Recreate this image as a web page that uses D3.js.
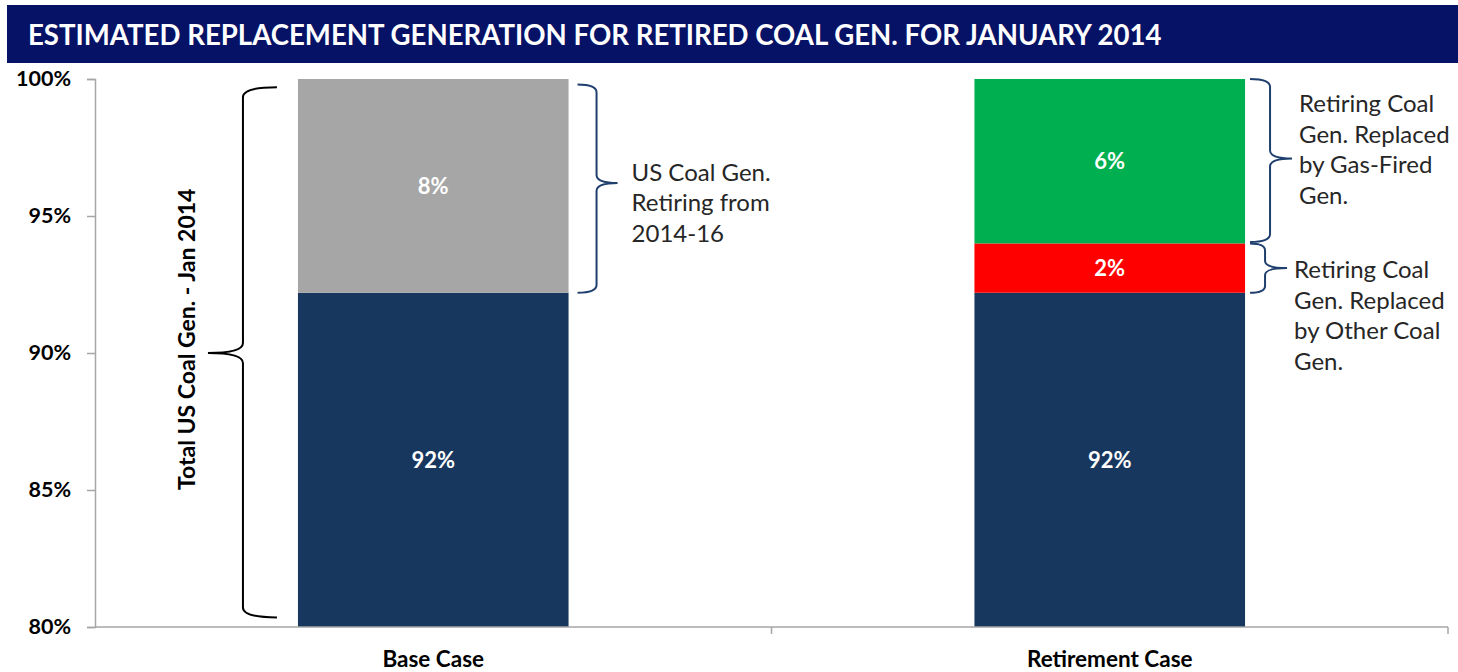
<!DOCTYPE html>
<html>
<head>
<meta charset="utf-8">
<script src="https://cdn.jsdelivr.net/npm/d3@7"></script>
<style>
  body { margin: 0; background: #fff; }
  svg { display: block; font-family: Lato, "Open Sans", sans-serif; }
</style>
</head>
<body>
<div id="chart"></div>
<script>
// chart data
const categories = ["Base Case", "Retirement Case"];
const seriesNames = ["Remaining Coal Gen.", "Retiring Coal Gen.", "Replaced by Other Coal", "Replaced by Gas-Fired"];
const seriesColors = ["#17375e", "#a6a6a6", "#ff0000", "#00b050"];
const baseValues = [92.2, 7.8, 0, 0];
const retirementValues = [92.2, 0, 1.8, 6.0];
const segmentLabels = [["92%", "8%", "", ""], ["92%", "", "2%", "6%"]];
const yTicks = [80, 85, 90, 95, 100];
const titleText = "ESTIMATED REPLACEMENT GENERATION FOR RETIRED COAL GEN. FOR JANUARY 2014";
const yTitle = "Total US Coal Gen. - Jan 2014";

const width = 1458, height = 672;
const margin = {top: 79, right: 10, bottom: 45, left: 95};

const svg = d3.select("#chart").append("svg")
    .attr("width", width)
    .attr("height", height);

// title bar
svg.append("rect")
    .attr("x", 7).attr("y", 5)
    .attr("width", width - 7).attr("height", 58)
    .attr("fill", "#061266");
svg.append("text")
    .attr("x", 28).attr("y", 45)
    .attr("fill", "#fff")
    .style("font-size", "27.6px")
    .style("font-weight", "bold")
    .text(titleText);

const x = d3.scaleBand()
    .domain(categories)
    .range([margin.left, width - margin.right])
    .paddingInner(0.6)
    .paddingOuter(0.3);

const y = d3.scaleLinear()
    .domain([80, 100])
    .range([height - margin.bottom, margin.top]);

// stacked segments starting at the axis floor
const rows = [baseValues, retirementValues].map((vals, i) => {
    let acc = 80;
    return vals.map((v, j) => {
        const start = j === 0 ? 80 : acc;
        const end = j === 0 ? v : acc + v;
        acc = end;
        return {cat: categories[i], series: j, y0: start, y1: end, label: segmentLabels[i][j]};
    });
});
const segs = rows.flat().filter(d => d.y1 > d.y0);

svg.append("g").selectAll("rect")
    .data(segs)
    .join("rect")
    .attr("x", d => x(d.cat))
    .attr("width", x.bandwidth())
    .attr("y", d => y(d.y1))
    .attr("height", d => y(d.y0) - y(d.y1))
    .attr("fill", d => seriesColors[d.series]);

svg.append("g").selectAll("text")
    .data(segs.filter(d => d.label))
    .join("text")
    .attr("x", d => x(d.cat) + x.bandwidth() / 2)
    .attr("y", d => y((d.y0 + d.y1) / 2))
    .attr("dy", "0.35em")
    .attr("text-anchor", "middle")
    .attr("fill", "#fff")
    .style("font-size", "22px")
    .style("font-weight", "bold")
    .text(d => d.label);

// y axis
const yAxis = svg.append("g")
    .attr("transform", `translate(${margin.left},0)`)
    .call(d3.axisLeft(y).tickValues(yTicks).tickSize(8).tickPadding(16).tickFormat(d => d + "%"));
yAxis.select(".domain").attr("stroke", "#a6a6a6").attr("stroke-width", 1.5);
yAxis.selectAll(".tick line").attr("stroke", "#a6a6a6").attr("stroke-width", 1.5);
yAxis.selectAll(".tick text")
    .attr("fill", "#000")
    .style("font-size", "21.5px")
    .style("font-weight", "bold")
    .style("font-family", "Lato, sans-serif");

// x axis
const xAxisY = y(80);
const xg = svg.append("g");
xg.append("line")
    .attr("x1", margin.left).attr("x2", width - margin.right)
    .attr("y1", xAxisY).attr("y2", xAxisY)
    .attr("stroke", "#a6a6a6").attr("stroke-width", 1.5);
const boundaries = [x.step() * 1 + margin.left, width - margin.right];
xg.selectAll("line.tk")
    .data(boundaries)
    .join("line")
    .attr("class", "tk")
    .attr("x1", d => d).attr("x2", d => d)
    .attr("y1", xAxisY).attr("y2", xAxisY + 7)
    .attr("stroke", "#a6a6a6").attr("stroke-width", 1.5);
xg.selectAll("text")
    .data(categories)
    .join("text")
    .attr("x", d => x(d) + x.bandwidth() / 2)
    .attr("y", xAxisY + 40)
    .attr("text-anchor", "middle")
    .style("font-size", "22.5px")
    .style("font-weight", "bold")
    .text(d => d);

// y title
svg.append("text")
    .attr("transform", `translate(195,${(y(85) + y(96)) / 2}) rotate(-90)`)
    .attr("text-anchor", "middle")
    .style("font-size", "23px")
    .style("font-weight", "bold")
    .text(yTitle);

// curly brace, tip at (xTip, ym)
function brace(top, bottom, xEnd, xSpine, xTip, ym, r) {
    return `M${xEnd},${top} Q${xSpine},${top} ${xSpine},${top + r}`
        + ` L${xSpine},${ym - r} Q${xSpine},${ym} ${xTip},${ym}`
        + ` Q${xSpine},${ym} ${xSpine},${ym + r}`
        + ` L${xSpine},${bottom - r} Q${xSpine},${bottom} ${xEnd},${bottom}`;
}

const bx = x(categories[0]), rx = x(categories[1]);
const bw = x.bandwidth();

// left brace around the whole base bar
svg.append("path")
    .attr("d", brace(y(99.7), y(80.35), bx - 21, bx - 55, bx - 90, y(90), 10))
    .attr("fill", "none").attr("stroke", "#000").attr("stroke-width", 2);

const braceColor = "#1f3f6e";
// base case retiring brace
svg.append("path")
    .attr("d", brace(y(99.8), y(92.2), bx + bw + 9, bx + bw + 28, bx + bw + 49, y(96.2), 8))
    .attr("fill", "none").attr("stroke", braceColor).attr("stroke-width", 2);
// gas-fired brace
svg.append("path")
    .attr("d", brace(y(100), y(94.05), rx + bw + 5, rx + bw + 25, rx + bw + 47, y(97.1), 8))
    .attr("fill", "none").attr("stroke", braceColor).attr("stroke-width", 2);
// other coal brace
svg.append("path")
    .attr("d", brace(y(94.0), y(92.2), rx + bw + 5, rx + bw + 20, rx + bw + 42, y(93.1), 7))
    .attr("fill", "none").attr("stroke", braceColor).attr("stroke-width", 2);

// annotation texts
const notes = [
    {x: bx + bw + 63, y: y(96.6), lines: ["US Coal Gen.", "Retiring from", "2014-16"]},
    {x: rx + bw + 54, y: y(99.1), lines: ["Retiring Coal", "Gen. Replaced", "by Gas-Fired", "Gen."]},
    {x: rx + bw + 49, y: y(93.05), lines: ["Retiring Coal", "Gen. Replaced", "by Other Coal", "Gen."]}
];
notes.forEach(n => {
    const t = svg.append("text")
        .attr("x", n.x).attr("y", n.y)
        .attr("fill", "#262626")
        .style("font-size", "24px");
    n.lines.forEach((l, i) => t.append("tspan")
        .attr("x", n.x)
        .attr("y", n.y + i * 30.7)
        .attr("dy", "0.35em")
        .text(l));
});
</script>
</body>
</html>
